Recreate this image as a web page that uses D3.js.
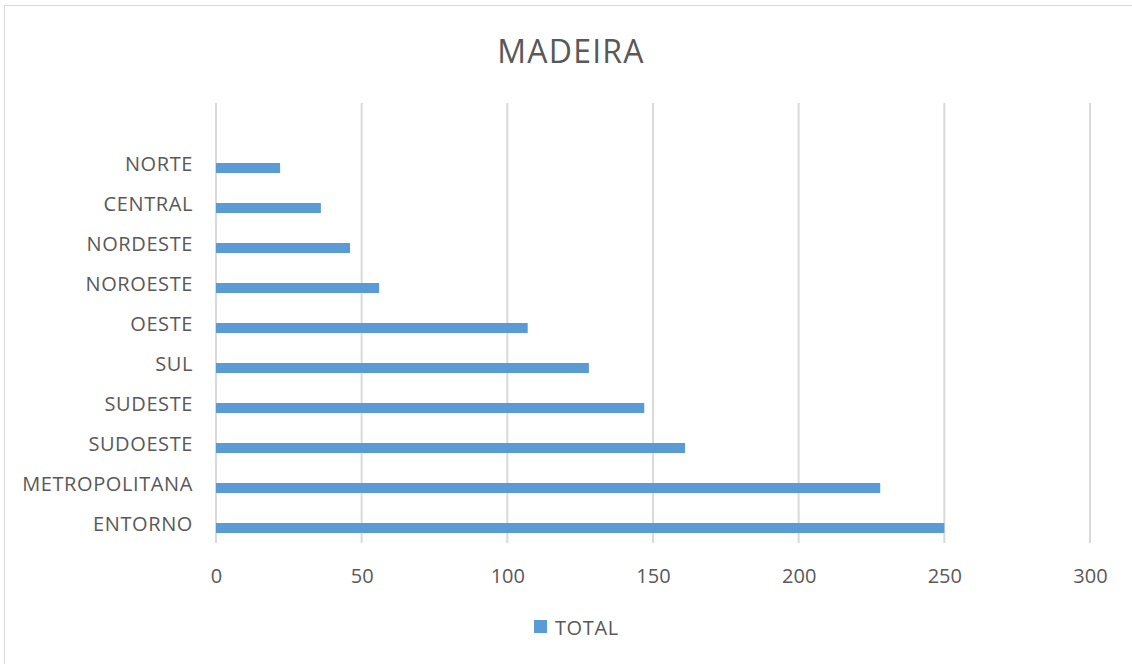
<!DOCTYPE html>
<html>
<head>
<meta charset="utf-8">
<script src="https://cdn.jsdelivr.net/npm/d3@7"></script>
<style>
  html, body { margin: 0; padding: 0; background: #fff; }
  svg { display: block; }
  text { font-family: "Open Sans", Lato, "Liberation Sans", sans-serif; fill: #595959; }
</style>
</head>
<body>
<svg id="chart" width="1132" height="664"></svg>
<script>
const title = "MADEIRA";
const seriesName = "TOTAL";
const categories = ["NORTE", "CENTRAL", "NORDESTE", "NOROESTE", "OESTE", "SUL", "SUDESTE", "SUDOESTE", "METROPOLITANA", "ENTORNO"];
const values = [22, 36, 46, 56, 107, 128, 147, 161, 228, 250];
const xTicks = [0, 50, 100, 150, 200, 250, 300];

const color = "#5B9BD5";
const svg = d3.select("#chart");

// chart border
svg.append("rect")
  .attr("x", 4.5).attr("y", 5.5)
  .attr("width", 1140).attr("height", 660)
  .attr("fill", "#fff").attr("stroke", "#D9D9D9").attr("stroke-width", 1);

const plotLeft = 216, plotRight = 1090, plotTop = 103, plotBottom = 543;

const x = d3.scaleLinear().domain([0, 300]).range([plotLeft, plotRight]);
const y = d3.scaleBand().domain(categories).range([plotBottom - 40 * categories.length, plotBottom]);

// gridlines
svg.append("g").selectAll("line").data(xTicks).join("line")
  .attr("x1", d => x(d)).attr("x2", d => x(d))
  .attr("y1", plotTop).attr("y2", plotBottom)
  .attr("stroke", "#D9D9D9").attr("stroke-width", 2);

// bars
const barH = 10;
svg.append("g").selectAll("rect").data(categories).join("rect")
  .attr("x", x(0))
  .attr("y", d => y(d) + y.bandwidth() / 2)
  .attr("width", (d, i) => x(values[i]) - x(0))
  .attr("height", barH)
  .attr("fill", color);

// category labels
svg.append("g").selectAll("text").data(categories).join("text")
  .attr("x", 193)
  .attr("y", d => y(d) + y.bandwidth() / 2)
  .attr("text-anchor", "end")
  .attr("dominant-baseline", "central")
  .attr("font-size", 20)
  .attr("letter-spacing", 0.6)
  .text(d => d);

// x tick labels
const xAxis = d3.axisBottom(x).tickValues(xTicks).tickSize(0).tickPadding(0);
const gx = svg.append("g").attr("transform", `translate(0, ${plotBottom})`).call(xAxis);
gx.select(".domain").remove();
gx.selectAll("text")
  .attr("y", 32)
  .attr("dy", 0)
  .attr("dominant-baseline", "central")
  .attr("font-size", 20)
  .attr("font-family", null)
  .style("fill", "#595959");

// title
svg.append("text")
  .attr("x", 571).attr("y", 50)
  .attr("text-anchor", "middle")
  .attr("dominant-baseline", "central")
  .attr("font-size", 32)
  .attr("letter-spacing", 1.2)
  .text(title);

// legend
svg.append("rect")
  .attr("x", 534).attr("y", 620)
  .attr("width", 13).attr("height", 13)
  .attr("fill", color);
svg.append("text")
  .attr("x", 555).attr("y", 627)
  .attr("dominant-baseline", "central")
  .attr("font-size", 20)
  .attr("letter-spacing", 0.6)
  .text(seriesName);
</script>
</body>
</html>
